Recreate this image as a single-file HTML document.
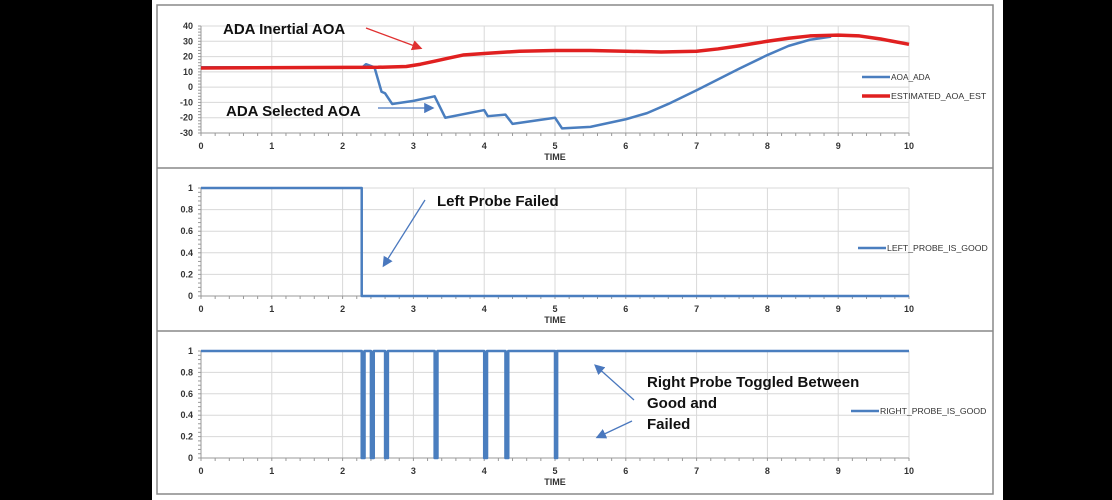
<!DOCTYPE html>
<html><head><meta charset="utf-8"><style>
html,body{margin:0;padding:0;background:#000;}
svg{display:block;font-family:"Liberation Sans",Arial,sans-serif;}
</style></head><body>
<svg id="c" width="1112" height="500" viewBox="0 0 1112 500" xmlns="http://www.w3.org/2000/svg">
<rect x="0" y="0" width="1112" height="500" fill="#000"/>
<rect x="152" y="0" width="851" height="500" fill="#fff"/>
<rect x="157" y="5" width="836" height="489" fill="none" stroke="#888" stroke-width="1.5"/>
<line x1="157" y1="168" x2="993" y2="168" stroke="#888" stroke-width="1.5"/>
<line x1="157" y1="331" x2="993" y2="331" stroke="#888" stroke-width="1.5"/>
<defs>
<marker id="ar" markerWidth="8" markerHeight="8" refX="6" refY="4" orient="auto"><path d="M0,0 L8,4 L0,8 z" fill="#e03030"/></marker>
<marker id="ab" markerWidth="8" markerHeight="8" refX="6" refY="4" orient="auto"><path d="M0,0 L8,4 L0,8 z" fill="#4a78be"/></marker>
</defs>
<g id="g"></g>
</svg>
<script>
// data
const timeTicks = [0,1,2,3,4,5,6,7,8,9,10];
const aoaTicks = [-30,-20,-10,0,10,20,30,40];
const boolTicks = [0,0.2,0.4,0.6,0.8,1];
const aoaAdaT = [0,2.28,2.33,2.45,2.55,2.6,2.7,3.0,3.3,3.45,4.0,4.05,4.3,4.4,5.0,5.1,5.5,6.0,6.3,6.6,7.0,7.3,7.6,8.0,8.3,8.6,8.9];
const aoaAdaV = [13,13,15,13,-3,-4,-11,-9,-6,-20,-15,-19,-18,-24,-20,-27,-26,-21,-17,-11,-2,5,12,21,27,31,33];
const aoaEstT = [0,2.5,2.9,3.1,3.3,3.5,3.7,4.0,4.5,5.0,5.5,6.0,6.5,7.0,7.3,7.6,8.0,8.3,8.6,9.0,9.3,9.6,10];
const aoaEstV = [12.5,13,13.5,15,17,19,21,22,23.5,24,24,23.5,23,23.5,25,27,30,32,33.5,34,33.5,31.5,28];
const leftT = [0,2.27,2.27,10];
const leftV = [1,1,0,0];
const rightFailStart = [2.27,2.4,2.6,3.3,4.0,4.3,5.0];
const rightFailEnd = [2.31,2.44,2.64,3.34,4.04,4.34,5.03];

const NS="http://www.w3.org/2000/svg";
const G=document.getElementById('g');
function mk(tag,attrs,parent){const e=document.createElementNS(NS,tag);for(const k in attrs)e.setAttribute(k,attrs[k]);(parent||G).appendChild(e);return e;}
const X0=201,X1=909;
const xs=t=>X0+(X1-X0)*t/10;

function panel(name,yTop,yBot,ymin,ymax,ticks,fmt){
  const ys=v=>yBot-(yBot-yTop)*(v-ymin)/(ymax-ymin);
  const g=mk('g',{});
  
  
  timeTicks.forEach(t=>{const l=mk('line',{x1:xs(t),x2:xs(t),y1:yTop,y2:yBot,stroke:'#d8d8d8','stroke-width':1},g);
    
    
    const tx=mk('text',{x:xs(t),y:yBot+16,'font-size':9,'font-weight':'bold','text-anchor':'middle',fill:'#333'},g);tx.textContent=t;
    
    
  });
  ticks.forEach(v=>{const l=mk('line',{x1:X0,x2:X1,y1:ys(v),y2:ys(v),stroke:'#d8d8d8','stroke-width':1},g);
    
    
    const tx=mk('text',{x:X0-8,y:ys(v)+3,'font-size':9,'font-weight':'bold','text-anchor':'end',fill:'#333'},g);tx.textContent=fmt(v);
    
    
  });
  for(let i=0;i<=50;i++){mk('line',{x1:xs(i/5),x2:xs(i/5),y1:yBot,y2:yBot+3,stroke:'#999','stroke-width':1},g);}
  const nMinor=(ticks.length-1)*5;
  for(let i=0;i<=nMinor;i++){const y=yBot-(yBot-yTop)*i/nMinor;mk('line',{x1:X0-3,x2:X0,y1:y,y2:y,stroke:'#999','stroke-width':1},g);}
  const ax=mk('line',{x1:X0,x2:X1,y1:yBot,y2:yBot,stroke:'#999','stroke-width':1},g);
  
  
  const ay=mk('line',{x1:X0,x2:X0,y1:yTop,y2:yBot,stroke:'#999','stroke-width':1},g);
  
  
  const tt=mk('text',{x:xs(5),y:yBot+27,'font-size':9,'font-weight':'bold','text-anchor':'middle',fill:'#333'},g);tt.textContent='TIME';
  
  
  return ys;
}
function poly(T,V,ys,color,w,name){
  const p=mk('polyline',{points:T.map((t,i)=>xs(t)+','+ys(V[i])).join(' '),fill:'none',stroke:color,'stroke-width':w,'stroke-linejoin':'round'});
  
  
}
function legend(x,y,color,w,label,name){
  const g=mk('g',{});
  
  
  mk('line',{x1:x,x2:x+28,y1:y,y2:y,stroke:color,'stroke-width':w},g);
  const t=mk('text',{x:x+29,y:y+3,'font-size':8.5,fill:'#333',textLength:label.length*5.6,lengthAdjust:'spacingAndGlyphs'},g);t.textContent=label;
}
function note(x,y,txt,name){
  const t=mk('text',{x:x,y:y,'font-size':15,'font-weight':'bold',fill:'#111'});t.textContent=txt;
  
  
}
function arrow(x1,y1,x2,y2,color,m,name){
  const l=mk('line',{x1,y1,x2,y2,stroke:color,'stroke-width':1.3,'marker-end':'url(#'+m+')'});
  
  
}

// top panel
const ys1=panel('aoa',26,133,-30,40,aoaTicks,v=>v);
poly(aoaAdaT,aoaAdaV,ys1,'#4a7ebf',2.5,'aoa-ada-line');
poly(aoaEstT,aoaEstV,ys1,'#e02020',3.5,'estimated-aoa-line');
legend(862,77,'#4a7ebf',2.5,'AOA_ADA','legend-aoa-ada');
legend(862,96,'#e02020',3.5,'ESTIMATED_AOA_EST','legend-estimated-aoa');
note(223,34,'ADA Inertial AOA','ada-inertial-annotation');
arrow(366,28,420,48,'#e03030','ar','inertial-arrow');
note(226,116,'ADA Selected AOA','ada-selected-annotation');
arrow(378,108,432,108,'#4a78be','ab','selected-arrow');

// middle panel
const ys2=panel('left-probe',188,296,0,1,boolTicks,v=>v);
poly(leftT,leftV,ys2,'#4a7ebf',2.5,'left-probe-line');
legend(858,248,'#4a7ebf',2.5,'LEFT_PROBE_IS_GOOD','legend-left-probe');
note(437,206,'Left Probe Failed','left-probe-annotation');
arrow(425,200,384,265,'#4a78be','ab','left-probe-arrow');

// bottom panel
const ys3=panel('right-probe',351,458,0,1,boolTicks,v=>v);
const rT=[0],rV=[1];
rightFailStart.forEach((s,i)=>{rT.push(s,s,rightFailEnd[i],rightFailEnd[i]);rV.push(1,0,0,1);});
rT.push(10);rV.push(1);
poly(rT,rV,ys3,'#4a7ebf',2.5,'right-probe-line');
rightFailStart.forEach((s,i)=>{const r=mk('rect',{x:xs(s),y:ys3(1),width:Math.max(2,xs(rightFailEnd[i])-xs(s)),height:ys3(0)-ys3(1),fill:'#4a7ebf'});
  
  });
legend(851,411,'#4a7ebf',2.5,'RIGHT_PROBE_IS_GOOD','legend-right-probe');
note(647,387,'Right Probe Toggled Between','right-probe-annotation-1');
note(647,408,'Good and','right-probe-annotation-2');
note(647,429,'Failed','right-probe-annotation-3');
arrow(634,400,596,366,'#4a78be','ab','right-probe-arrow-up');
arrow(632,421,598,437,'#4a78be','ab','right-probe-arrow-down');
</script>
</body></html>
